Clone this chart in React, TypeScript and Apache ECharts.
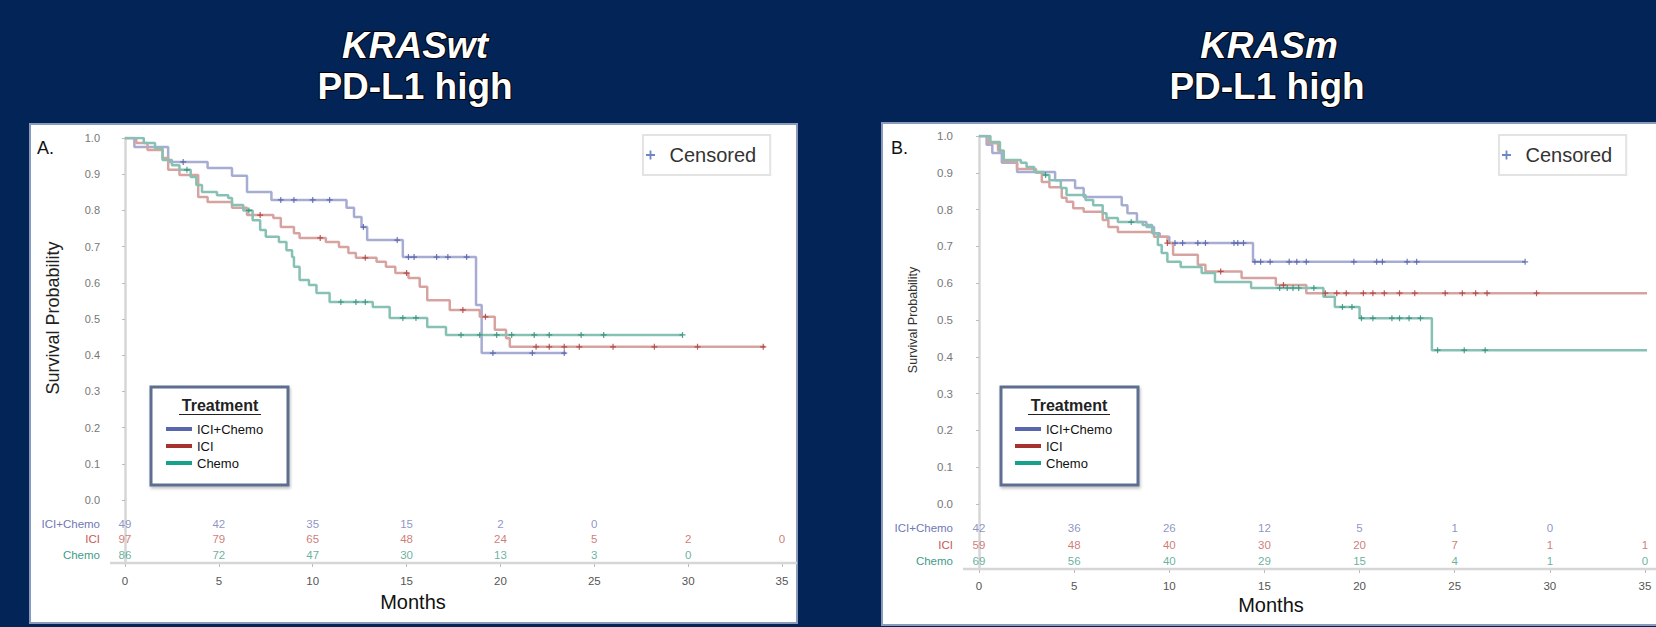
import React, { useEffect, useRef } from "react";
import * as echarts from "echarts";

// ---------- data ----------
const riskMonths = [0, 5, 10, 15, 20, 25, 30, 35];
const treatments = ["ICI+Chemo", "ICI", "Chemo"];
const riskRows = ["", "ICI+Chemo", "ICI", "Chemo"];

// Panel A: KRASwt PD-L1 high
const wtIciChemoT = [0, 0.5, 2.3, 4.4, 5.7, 6.5, 7.8, 11.8, 12.2, 12.6, 12.9, 14.8, 18.7, 19.0, 23.5];
const wtIciChemoS = [1.0, 0.975, 0.934, 0.917, 0.896, 0.851, 0.829, 0.807, 0.782, 0.754, 0.718, 0.671, 0.539, 0.406, 0.406];
const wtIciChemoCens = [3.1, 8.3, 9.0, 10.0, 10.9, 12.7, 14.5, 15.1, 15.4, 16.6, 17.2, 18.2, 19.6, 21.7, 23.4];

const wtIciT = [0, 0.6, 1.2, 2.0, 2.3, 2.9, 3.9, 4.4, 5.7, 6.5, 7.9, 8.3, 9.0, 9.3, 10.7, 11.4, 11.9, 12.3, 13.4, 13.9, 14.4, 15.1, 15.7, 16.1, 17.3, 18.9, 19.7, 20.3, 20.5, 34.1];
const wtIciS = [1.0, 0.986, 0.967, 0.945, 0.912, 0.898, 0.837, 0.823, 0.807, 0.787, 0.779, 0.754, 0.737, 0.724, 0.713, 0.699, 0.682, 0.669, 0.658, 0.644, 0.627, 0.613, 0.589, 0.552, 0.525, 0.506, 0.47, 0.447, 0.423, 0.423];
const wtIciCens = [7.2, 10.4, 12.8, 15.0, 18.0, 19.2, 21.9, 22.6, 23.4, 24.2, 26.0, 28.2, 30.5, 34.0];

const wtChemoT = [0, 1.0, 1.6, 2.0, 2.5, 2.9, 3.5, 3.8, 4.1, 4.9, 5.5, 5.7, 6.3, 6.8, 7.2, 7.5, 8.2, 8.6, 8.9, 9.0, 9.3, 9.8, 10.2, 10.9, 13.2, 14.1, 16.1, 17.1, 29.7];
const wtChemoS = [1.0, 0.986, 0.972, 0.939, 0.925, 0.912, 0.892, 0.87, 0.851, 0.842, 0.834, 0.815, 0.8, 0.773, 0.746, 0.727, 0.713, 0.69, 0.671, 0.644, 0.608, 0.594, 0.572, 0.547, 0.533, 0.503, 0.478, 0.456, 0.456];
const wtChemoCens = [3.3, 6.6, 11.5, 12.3, 12.8, 14.8, 15.5, 17.9, 18.9, 19.8, 20.6, 21.8, 22.6, 24.3, 25.5, 29.7];

const wtRiskIciChemo = [49, 42, 35, 15, 2, 0];
const wtRiskIci = [97, 79, 65, 48, 24, 5, 2, 0];
const wtRiskChemo = [86, 72, 47, 30, 13, 3, 0];

// Panel B: KRASm PD-L1 high
const mIciChemoT = [0, 0.4, 0.7, 1.2, 2.0, 4.0, 5.05, 5.5, 7.5, 7.8, 8.3, 8.8, 9.2, 9.5, 10.0, 14.4, 28.7];
const mIciChemoS = [1.0, 0.976, 0.954, 0.927, 0.902, 0.88, 0.859, 0.834, 0.812, 0.79, 0.766, 0.753, 0.736, 0.726, 0.709, 0.658, 0.658];
const mIciChemoCens = [10.3, 10.7, 11.5, 11.9, 13.4, 13.6, 13.9, 14.5, 14.8, 15.3, 16.3, 16.7, 17.2, 19.7, 20.9, 21.2, 22.5, 23.0, 28.7];

const mIciT = [0, 0.5, 1.0, 1.3, 2.0, 3.0, 3.3, 3.7, 4.35, 4.6, 4.95, 5.5, 6.5, 6.8, 7.3, 9.2, 9.9, 10.2, 11.5, 11.9, 13.8, 15.6, 17.2, 35.3];
const mIciS = [1.0, 0.98, 0.96, 0.93, 0.91, 0.9, 0.875, 0.861, 0.832, 0.821, 0.804, 0.794, 0.772, 0.753, 0.739, 0.726, 0.709, 0.677, 0.65, 0.632, 0.614, 0.595, 0.573, 0.573];
const mIciCens = [9.9, 12.7, 16.0, 18.2, 18.8, 19.3, 20.2, 20.7, 21.3, 22.1, 22.9, 24.5, 25.4, 26.1, 26.7, 29.3, 35.3];

const mChemoT = [0, 0.6, 1.1, 1.3, 2.2, 2.5, 2.9, 3.4, 3.7, 4.3, 4.6, 5.6, 6.0, 6.5, 6.7, 7.3, 8.6, 9.1, 9.4, 9.6, 9.9, 10.6, 11.7, 12.4, 14.3, 18.1, 18.7, 20.0, 23.8, 35.2];
const mChemoS = [1.0, 0.984, 0.96, 0.935, 0.927, 0.916, 0.902, 0.894, 0.88, 0.859, 0.84, 0.826, 0.812, 0.79, 0.777, 0.766, 0.758, 0.736, 0.704, 0.682, 0.658, 0.644, 0.628, 0.603, 0.587, 0.563, 0.535, 0.505, 0.418, 0.418];
const mChemoCens = [3.5, 8.0, 15.8, 16.2, 16.5, 16.8, 17.6, 19.1, 19.6, 20.1, 20.7, 21.7, 22.1, 22.6, 23.2, 24.1, 25.5, 26.6, 35.1];

const mRiskIciChemo = [42, 36, 26, 12, 5, 1, 0];
const mRiskIci = [59, 48, 40, 30, 20, 7, 1, 1];
const mRiskChemo = [69, 56, 40, 29, 15, 4, 1, 0];

// ---------- styles ----------
const FF = "'Liberation Sans', Arial, sans-serif";
const NAVY = "#022456";
const lineColors = ["#a7acd3", "#d7a3a1", "#86c1b4"];
const censColors = ["#4b5aa6", "#ad3733", "#2c8a77"];
const riskColors = ["#7078b6", "#c45955", "#3f9c88"];
const legendColors = ["#5866ad", "#a6322f", "#17a08a"];
const PLUS = "path://M4,0H6V4H10V6H6V10H4V6H0V4H4Z";

type Panel = {
  curves: { t: number[]; s: number[]; c: number[] }[];
  risk: number[][];
  plotLeft: number; plotWidth: number; plotTop: number; plotHeight: number;
  riskTop: number; riskHeight: number; yOffset: number;
  yFont: number; xMargin: number;
};

const panels: Panel[] = [
  {
    curves: [
      { t: wtIciChemoT, s: wtIciChemoS, c: wtIciChemoCens },
      { t: wtIciT, s: wtIciS, c: wtIciCens },
      { t: wtChemoT, s: wtChemoS, c: wtChemoCens },
    ],
    risk: [wtRiskIciChemo, wtRiskIci, wtRiskChemo],
    plotLeft: 125, plotWidth: 657, plotTop: 138, plotHeight: 362,
    riskTop: 500, riskHeight: 63, yOffset: 15, yFont: 11, xMargin: 12,
  },
  {
    curves: [
      { t: mIciChemoT, s: mIciChemoS, c: mIciChemoCens },
      { t: mIciT, s: mIciS, c: mIciCens },
      { t: mChemoT, s: mChemoS, c: mChemoCens },
    ],
    risk: [mRiskIciChemo, mRiskIci, mRiskChemo],
    plotLeft: 979, plotWidth: 666, plotTop: 136, plotHeight: 368,
    riskTop: 504, riskHeight: 65, yOffset: 16, yFont: 11.5, xMargin: 11,
  },
];

function survAt(t: number[], s: number[], x: number) {
  let v = s[0];
  for (let i = 0; i < t.length; i++) if (t[i] <= x) v = s[i];
  return v;
}

function buildOption() {
  const grid: any[] = [];
  const xAxis: any[] = [];
  const yAxis: any[] = [];
  const series: any[] = [];
  const axisLine = { show: true, lineStyle: { color: "#d6d6d6", width: 2.5 } };

  panels.forEach((p, pi) => {
    const gMain = pi * 2;
    const gRisk = pi * 2 + 1;
    grid.push({ left: p.plotLeft, top: p.plotTop, width: p.plotWidth, height: p.plotHeight, outerBoundsMode: "none" });
    grid.push({ left: p.plotLeft, top: p.riskTop, width: p.plotWidth, height: p.riskHeight, outerBoundsMode: "none" });
    xAxis.push({ gridIndex: gMain, type: "value", min: 0, max: 35, interval: 5, show: false });
    xAxis.push({
      gridIndex: gRisk, type: "value", min: 0, max: 35, interval: 5,
      axisLine: { show: false },
      axisTick: { show: true, length: 4, lineStyle: { color: "#bbbbbb" } },
      axisLabel: { fontSize: 11.5, color: "#555", margin: p.xMargin, fontFamily: FF },
      splitLine: { show: false },
    });
    yAxis.push({
      gridIndex: gMain, type: "value", min: 0, max: 1, interval: 0.1, offset: p.yOffset,
      axisLine,
      axisTick: { show: true, length: 3, lineStyle: { color: "#bbbbbb" } },
      axisLabel: { formatter: (v: number) => v.toFixed(1), fontSize: p.yFont, color: "#777", margin: 10, fontFamily: FF },
      splitLine: { show: false },
    });
    yAxis.push({
      gridIndex: gRisk, type: "category", data: riskRows, inverse: true, offset: p.yOffset,
      axisLine,
      axisTick: { show: false },
      axisLabel: {
        fontSize: 11.5, margin: 10, fontFamily: FF,
        color: (v: string) => riskColors[Math.max(0, treatments.indexOf(v))],
      },
      splitLine: { show: false },
    });

    p.curves.forEach((c, ci) => {
      series.push({
        name: treatments[ci], type: "line", step: "end",
        xAxisIndex: gMain, yAxisIndex: gMain,
        data: c.t.map((t, i) => [t, c.s[i]]),
        showSymbol: false, symbol: "none",
        itemStyle: { color: legendColors[ci] },
        lineStyle: { color: lineColors[ci], width: 2.5 },
        z: 2, silent: true,
      });
    });
    p.curves.forEach((c, ci) => {
      series.push({
        name: "Censored", type: "scatter",
        xAxisIndex: gMain, yAxisIndex: gMain,
        data: c.c.map((t) => [t, survAt(c.t, c.s, t)]),
        symbol: PLUS, symbolSize: 6,
        itemStyle: { color: censColors[ci] },
        z: 3, silent: true,
      });
    });
    p.risk.forEach((r, ri) => {
      series.push({
        name: "risk-" + treatments[ri] + "-" + pi, type: "scatter",
        xAxisIndex: gRisk, yAxisIndex: gRisk,
        data: r.map((n, i) => [riskMonths[i], treatments[ri], n]),
        symbolSize: 1, itemStyle: { color: "rgba(0,0,0,0)" },
        label: {
          show: true, position: "inside", formatter: (q: any) => String(q.value[2]),
          color: riskColors[ri], fontSize: 11.5, fontFamily: FF,
        },
        silent: true,
      });
    });
  });

  const treatLegend = (left: number) => ({
    orient: "vertical", left, top: 422.5, padding: 0,
    itemWidth: 26, itemHeight: 4, itemGap: 4, selectedMode: false,
    textStyle: { fontSize: 13, lineHeight: 13, color: "#111", fontFamily: FF },
    data: treatments.map((n, i) => ({ name: n, icon: "rect", itemStyle: { color: legendColors[i] } })),
    z: 6,
  });
  const censLegend = (left: number) => ({
    left, top: 135, padding: [10, 14, 10, 3], borderColor: "#e3e3e3", borderWidth: 2,
    backgroundColor: "#fff", itemWidth: 28, itemHeight: 9, selectedMode: false,
    textStyle: { fontSize: 20, color: "#333", fontFamily: FF },
    data: [{ name: "Censored", icon: PLUS, itemStyle: { color: "#4a68b8" } }],
    z: 6,
  });

  const titleText = (x: number, y: number, text: string, italic: boolean) => ({
    type: "text", x, y, z: 10,
    style: {
      text, fill: "#ffffff", stroke: "#000000", lineWidth: 2,
      font: `${italic ? "italic " : ""}bold 37px ${FF}`,
      align: "center", verticalAlign: "middle",
    },
  });

  const treatBox = (x: number, cx: number) => [
    {
      type: "rect", z: 4, shape: { x, y: 387, width: 137, height: 98 },
      style: { fill: "#fff", stroke: "#5d6e90", lineWidth: 3, shadowBlur: 3, shadowColor: "rgba(0,0,0,0.25)", shadowOffsetX: 1, shadowOffsetY: 2 },
    },
    {
      type: "text", z: 5, x: cx, y: 405,
      style: { text: "Treatment", fill: "#222", font: `bold 16px ${FF}`, align: "center", verticalAlign: "middle" },
    },
    {
      type: "line", z: 5, shape: { x1: cx - 41, y1: 414.5, x2: cx + 41, y2: 414.5 },
      style: { stroke: "#222", lineWidth: 1.2 },
    },
  ];

  const graphic: any[] = [
    { type: "rect", z: -5, shape: { x: 30, y: 124, width: 767, height: 499 }, style: { fill: "#fff", stroke: "#8a9aba", lineWidth: 2 } },
    { type: "rect", z: -5, shape: { x: 882, y: 123, width: 790, height: 502 }, style: { fill: "#fff", stroke: "#8a9aba", lineWidth: 2 } },
    { type: "line", z: 1, shape: { x1: 110, y1: 563, x2: 797, y2: 563 }, style: { stroke: "#d6d6d6", lineWidth: 2.5 } },
    { type: "line", z: 1, shape: { x1: 963, y1: 569, x2: 1656, y2: 569 }, style: { stroke: "#d6d6d6", lineWidth: 2.5 } },
    titleText(415, 45, "KRASwt", true),
    titleText(415, 86, "PD-L1 high", false),
    titleText(1269, 45, "KRASm", true),
    titleText(1267, 86, "PD-L1 high", false),
    { type: "text", z: 5, x: 37, y: 148, style: { text: "A.", fill: "#111", font: `18px ${FF}`, align: "left", verticalAlign: "middle" } },
    { type: "text", z: 5, x: 891, y: 148, style: { text: "B.", fill: "#111", font: `18px ${FF}`, align: "left", verticalAlign: "middle" } },
    { type: "text", z: 5, x: 53, y: 318, rotation: Math.PI / 2, style: { text: "Survival Probability", fill: "#222", font: `18px ${FF}`, align: "center", verticalAlign: "middle" } },
    { type: "text", z: 5, x: 913, y: 320, rotation: Math.PI / 2, style: { text: "Survival Probability", fill: "#333", font: `12.5px ${FF}`, align: "center", verticalAlign: "middle" } },
    { type: "text", z: 5, x: 413, y: 602, style: { text: "Months", fill: "#111", font: `20px ${FF}`, align: "center", verticalAlign: "middle" } },
    { type: "text", z: 5, x: 1271, y: 605, style: { text: "Months", fill: "#111", font: `20px ${FF}`, align: "center", verticalAlign: "middle" } },
    ...treatBox(151, 220),
    ...treatBox(1001, 1069),
  ];

  return {
    animation: false,
    backgroundColor: NAVY,
    textStyle: { fontFamily: FF },
    grid, xAxis, yAxis, series, graphic,
    legend: [treatLegend(166), treatLegend(1015), censLegend(643), censLegend(1499)],
  };
}

export default function App() {
  const ref = useRef<HTMLDivElement>(null);
  useEffect(() => {
    if (!ref.current) return;
    const chart = echarts.init(ref.current, undefined, { renderer: "svg" });
    chart.setOption(buildOption() as any);
    return () => chart.dispose();
  }, []);
  return <div ref={ref} style={{ position: "absolute", left: 0, top: 0, width: 1656, height: 627 }} />;
}
